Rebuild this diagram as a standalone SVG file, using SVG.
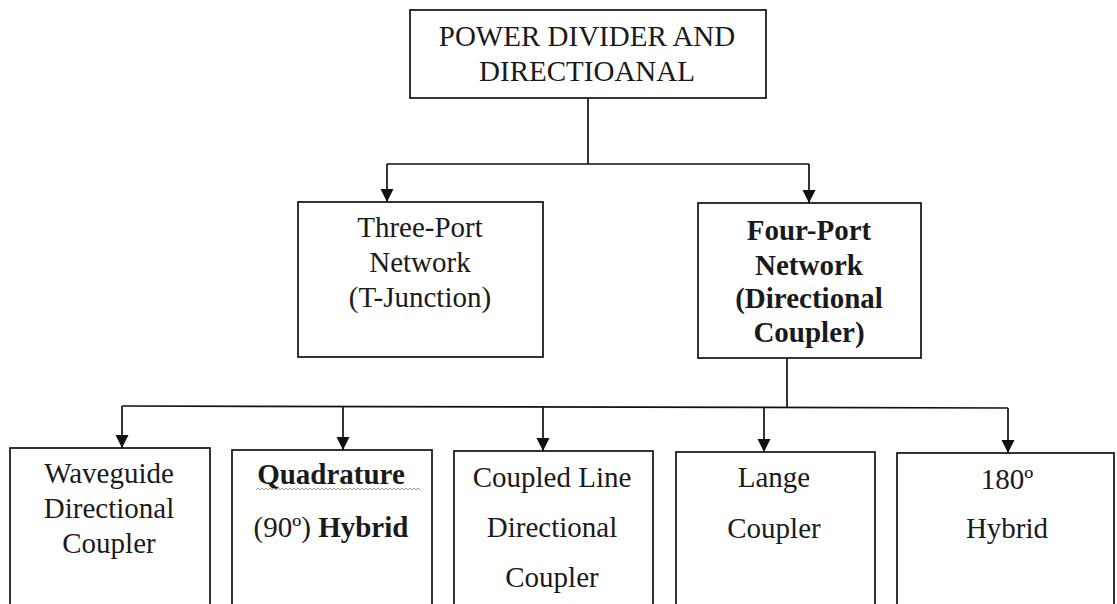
<svg xmlns="http://www.w3.org/2000/svg" width="1117" height="604" viewBox="0 0 1117 604">
<defs>
<style>
.box{fill:#fff;stroke:#111;stroke-width:1.7}
.t{font-family:"Liberation Serif","Times New Roman",serif;font-size:29px;fill:#1a1a1a;text-anchor:middle}
.b{font-weight:bold}
.n{font-weight:normal}
.c{fill:none;stroke:#111;stroke-width:1.7}
</style>
<marker id="arr" markerUnits="userSpaceOnUse" markerWidth="14" markerHeight="14" refX="13" refY="6.5" orient="auto">
<path d="M0,0 L13,6.5 L0,13 z" fill="#111"/>
</marker>
</defs>
<rect width="1117" height="604" fill="#fff"/>
<g id="connectors">
<path class="c" d="M588,98 V164"/>
<path class="c" d="M387,164 H809"/>
<path class="c" d="M387,164 V202" marker-end="url(#arr)"/>
<path class="c" d="M809,164 V203" marker-end="url(#arr)"/>
<path class="c" d="M787,358 V407"/>
<path class="c" d="M122,406 L1008,408"/>
<path class="c" d="M122,406 V448" marker-end="url(#arr)"/>
<path class="c" d="M343,406 V450" marker-end="url(#arr)"/>
<path class="c" d="M543,407 V451" marker-end="url(#arr)"/>
<path class="c" d="M764,407 V452" marker-end="url(#arr)"/>
<path class="c" d="M1008,408 V453" marker-end="url(#arr)"/>
</g>
<g id="root">
<rect class="box" x="410" y="10" width="356" height="88"/>
<text class="t" x="587" y="46">POWER DIVIDER AND</text>
<text class="t" x="587" y="81">DIRECTIOANAL</text>
</g>
<g id="three-port">
<rect class="box" x="298" y="202" width="245" height="155"/>
<text class="t" x="420" y="237">Three-Port</text>
<text class="t" x="420" y="272">Network</text>
<text class="t" x="420" y="307">(T-Junction)</text>
</g>
<g id="four-port">
<rect class="box" x="698" y="203" width="223" height="155"/>
<text class="t b" x="809" y="240">Four-Port</text>
<text class="t b" x="809" y="275">Network</text>
<text class="t b" x="809" y="308">(Directional</text>
<text class="t b" x="809" y="342">Coupler)</text>
</g>
<g id="waveguide">
<rect class="box" x="10" y="448" width="200" height="170"/>
<text class="t" x="109" y="483">Waveguide</text>
<text class="t" x="109" y="518">Directional</text>
<text class="t" x="109" y="553">Coupler</text>
</g>
<g id="quadrature">
<rect class="box" x="232" y="450" width="200" height="170"/>
<text class="t b" x="331" y="484">Quadrature</text>
<path d="M256,490 l2,-2 l2,2 l2,-2 l2,2 l2,-2 l2,2 l2,-2 l2,2 l2,-2 l2,2 l2,-2 l2,2 l2,-2 l2,2 l2,-2 l2,2 l2,-2 l2,2 l2,-2 l2,2 l2,-2 l2,2 l2,-2 l2,2 l2,-2 l2,2 l2,-2 l2,2 l2,-2 l2,2 l2,-2 l2,2 l2,-2 l2,2 l2,-2 l2,2 l2,-2 l2,2 l2,-2 l2,2 l2,-2 l2,2 l2,-2 l2,2 l2,-2 l2,2 l2,-2 l2,2 l2,-2 l2,2 l2,-2 l2,2 l2,-2 l2,2 l2,-2 l2,2 l2,-2 l2,2 l2,-2 l2,2 l2,-2 l2,2 l2,-2 l2,2 l2,-2 l2,2 l2,-2 l2,2 l2,-2 l2,2 l2,-2 l2,2 l2,-2 l2,2 l2,-2 l2,2 l2,-2 l2,2 l2,-2 l2,2 l2,-2 l2,2" fill="none" stroke="#9a9a9a" stroke-width="1"/>
<text class="t" x="331" y="537"><tspan class="n">(90º) </tspan><tspan class="b">Hybrid</tspan></text>
</g>
<g id="coupled-line">
<rect class="box" x="454" y="451" width="199" height="170"/>
<text class="t" x="552" y="487">Coupled Line</text>
<text class="t" x="552" y="537">Directional</text>
<text class="t" x="552" y="587">Coupler</text>
</g>
<g id="lange">
<rect class="box" x="676" y="452" width="199" height="170"/>
<text class="t" x="774" y="487">Lange</text>
<text class="t" x="774" y="538">Coupler</text>
</g>
<g id="hybrid180">
<rect class="box" x="897" y="453" width="217" height="170"/>
<text class="t" x="1007" y="489">180º</text>
<text class="t" x="1007" y="538">Hybrid</text>
</g>
</svg>
